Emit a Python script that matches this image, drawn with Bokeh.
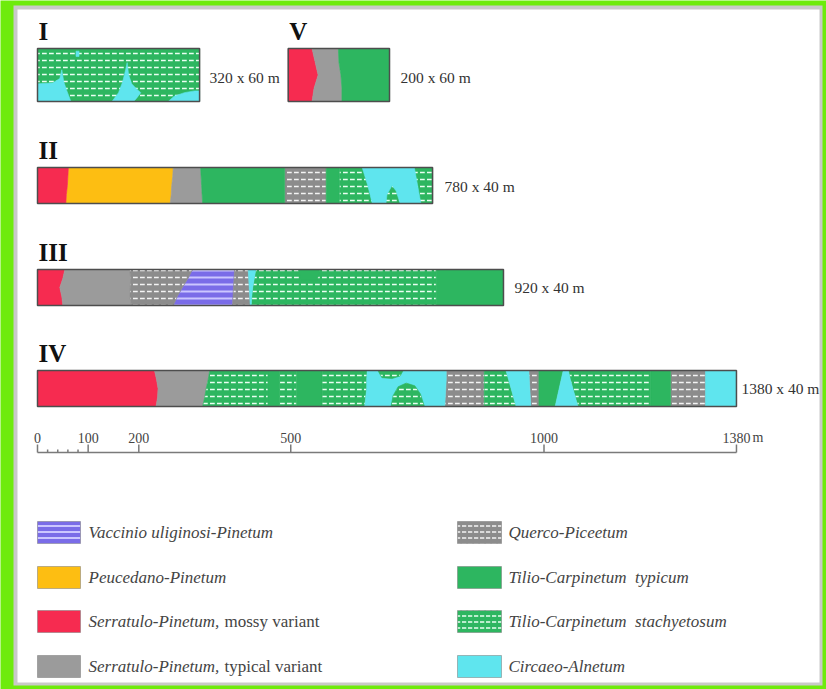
from bokeh.plotting import figure
from bokeh.models import Range1d
from bokeh.core.properties import value
from bokeh.embed import file_html
from bokeh.resources import INLINE

# ------------------------------------------------------------------ data
transect_names = ["I", "V", "II", "III", "IV"]
transect_lengths = [320, 200, 780, 920, 1380]      # m
transect_widths = [60, 60, 40, 40, 40]             # m
transect_offsets = [0, 495, 0, 0, 0]               # m along the scale
size_labels = ["320 x 60 m", "200 x 60 m", "780 x 40 m", "920 x 40 m", "1380 x 40 m"]

depths = [0.0, 0.25, 0.5, 0.75, 1.0]               # fraction of transect width

# boundaries between communities (m along the transect, one value per depth)
I_bounds = [[0] * 5, [320] * 5]
I_types = ["stachy"]
I_patches = [
    [(0, 40), (30, 39), (44, 34), (48, 24), (52, 38), (58, 48), (66, 60), (0, 60)],
    [(147, 60), (160, 50), (168, 38), (174, 24), (177, 16), (180, 30), (186, 40),
     (196, 46), (204, 50), (196, 56), (190, 60)],
    [(258, 60), (270, 54), (290, 50), (310, 48), (320, 48), (320, 60)],
    [(76, 3), (82, 3), (82, 9), (76, 9)],
]
I_patch_types = ["cyan", "cyan", "cyan", "cyan"]

V_bounds = [[0] * 5, [47, 53, 59, 51, 47], [99, 100, 104, 106, 106], [200] * 5]
V_types = ["mossy", "typical", "typicum"]
V_patches = []
V_patch_types = []

II_bounds = [[0] * 5, [61, 60, 59, 57, 56], [268, 267, 265, 264, 262],
             [322, 323, 324, 325, 326], [488] * 5, [570] * 5, [596] * 5, [780] * 5]
II_types = ["mossy", "peuc", "typical", "typicum", "querco", "typicum", "stachy"]
II_patches = [
    [(641, 0), (744, 0), (757, 40), (716, 40), (708, 26), (700, 20), (690, 30),
     (688, 40), (661, 40), (652, 20)],
]
II_patch_types = ["cyan"]

III_bounds = [[0] * 5, [54, 50, 44, 48, 50], [182, 184, 183, 182, 186],
              [306, 297, 286, 276, 268], [389, 388, 387, 386, 385],
              [416, 417, 418, 419, 420], [431, 428, 425, 423, 422],
              [787] * 5, [920] * 5]
III_types = ["mossy", "typical", "querco", "vacc", "querco", "cyan", "stachy", "typicum"]
III_patches = [[(515, 0), (558, 0), (552, 12), (521, 12)]]
III_patch_types = ["typicum"]

IV_bounds = [[0] * 5, [231, 235, 238, 237, 234], [340, 337, 333, 330, 326],
             [455] * 5, [478] * 5, [511] * 5, [562] * 5, [651, 650, 650, 648, 646],
             [807, 807, 806, 805, 804], [882] * 5, [925, 930, 935, 940, 945],
             [970, 971, 972, 973, 974], [990] * 5, [1038, 1034, 1030, 1026, 1022],
             [1048, 1052, 1057, 1062, 1067], [1211] * 5, [1250] * 5, [1319] * 5,
             [1380] * 5]
IV_types = ["mossy", "typical", "stachy", "typicum", "stachy", "typicum", "stachy",
            "cyan", "querco", "stachy", "cyan", "querco", "typicum", "cyan",
            "stachy", "typicum", "querco", "cyan"]
IV_patches = [
    [(698, 40), (702, 28), (712, 18), (728, 14), (745, 17), (756, 26), (764, 40)],
    [(672, 0), (722, 0), (716, 6), (700, 9), (680, 8)],
]
IV_patch_types = ["stachy", "stachy"]

scale_ticks = [0, 100, 200, 500, 1000, 1380]
scale_labels = ["0", "100", "200", "500", "1000", "1380"]
scale_minor = [20, 40, 60, 80]
scale_unit = "m"

legend_left_names = ["Vaccinio uliginosi-Pinetum", "Peucedano-Pinetum",
                     "Serratulo-Pinetum,", "Serratulo-Pinetum,"]
legend_left_suffix = ["", "", "mossy variant", "typical variant"]
legend_left_types = ["vacc", "peuc", "mossy", "typical"]
legend_right_names = ["Querco-Piceetum", "Tilio-Carpinetum\u00a0 typicum",
                      "Tilio-Carpinetum\u00a0 stachyetosum", "Circaeo-Alnetum"]
legend_right_types = ["querco", "typicum", "stachy", "cyan"]

# ------------------------------------------------------------------ styles / layout
GREEN = "#2DB660"
STYLES = {
    "vacc": dict(fill_color="#7A6CE8", hatch_pattern="horizontal_line",
                 hatch_color="#CBC6FF", hatch_scale=7, hatch_weight=2),
    "peuc": dict(fill_color="#FDBE12"),
    "mossy": dict(fill_color="#F62B50"),
    "typical": dict(fill_color="#9B9B9B"),
    "querco": dict(fill_color="#8C8C8C", hatch_pattern="horizontal_dash",
                   hatch_color="#F4F4F4", hatch_scale=7, hatch_weight=1.5),
    "typicum": dict(fill_color=GREEN),
    "stachy": dict(fill_color=GREEN, hatch_pattern="horizontal_dash",
                   hatch_color="#EAFFF2", hatch_scale=7, hatch_weight=1.5),
    "cyan": dict(fill_color="#5FE5EE"),
}

X0, PXM = 37.0, 0.5065      # pixel of 0 m, pixels per metre


def xm(px):
    return (px - X0) / PXM


def dpx(px):
    return px / PXM


# box top / bottom in pixels, size-label gap in pixels
BOX = {"I": (48, 101), "V": (48, 101), "II": (167, 203), "III": (269, 305), "IV": (370, 406)}
SIZE_Y = {"I": 77, "V": 77, "II": 186, "III": 287, "IV": 388}
SIZE_GAP = {"I": 10, "V": 11, "II": 12, "III": 11, "IV": 5}

p = figure(width=826, height=689, x_range=Range1d(xm(0), xm(826)),
           y_range=Range1d(689, 0), x_axis_type=None, y_axis_type=None,
           output_backend="svg", toolbar_location=None, min_border=0)
p.outline_line_color = None
p.background_fill_color = "#6EEB0C"
p.border_fill_color = "#6EEB0C"

# white panel
p.quad(left=[xm(13)], right=[xm(822)], top=[5], bottom=[685],
       fill_color="#C9C9C9", line_color=None)
p.quad(left=[xm(17)], right=[xm(819)], top=[9], bottom=[682],
       fill_color="#FFFFFF", line_color=None)

all_data = {
    "I": (I_bounds, I_types, I_patches, I_patch_types),
    "V": (V_bounds, V_types, V_patches, V_patch_types),
    "II": (II_bounds, II_types, II_patches, II_patch_types),
    "III": (III_bounds, III_types, III_patches, III_patch_types),
    "IV": (IV_bounds, IV_types, IV_patches, IV_patch_types),
}

base = {k: ([], []) for k in STYLES}
over = {k: ([], []) for k in STYLES}
for name, length, width, off in zip(transect_names, transect_lengths,
                                    transect_widths, transect_offsets):
    top, bot = BOX[name]
    h = bot - top
    bounds, types, patches, ptypes = all_data[name]
    for i, t in enumerate(types):
        left, right = bounds[i], bounds[i + 1]
        xs = [off + v for v in left] + [off + v for v in reversed(right)]
        ys = [top + d * h for d in depths] + [top + d * h for d in reversed(depths)]
        base[t][0].append(xs)
        base[t][1].append(ys)
    for poly, t in zip(patches, ptypes):
        over[t][0].append([off + a for a, b in poly])
        over[t][1].append([top + b / width * h for a, b in poly])

for layer in (base, over):
    for t, (xs, ys) in layer.items():
        if xs:
            st = STYLES[t]
            p.patches(xs=xs, ys=ys, line_color=st["fill_color"], line_width=0.6, **st)

# outlines, labels
for name, length, width, off, lab in zip(transect_names, transect_lengths,
                                         transect_widths, transect_offsets, size_labels):
    top, bot = BOX[name]
    p.quad(left=[off], right=[off + length], top=[top], bottom=[bot],
           fill_color=None, line_color="#4D4D4D", line_width=1.5)
    p.text(x=[off + dpx(1)], y=[top - 31], text=[name],
           text_font=value("Liberation Serif"), text_font_style="bold",
           text_font_size="25px", text_color="#111111",
           text_align="left", text_baseline="top")
    p.text(x=[off + length + dpx(SIZE_GAP[name])], y=[SIZE_Y[name]], text=[lab],
           text_font=value("Liberation Serif"), text_font_size="15.5px",
           text_color="#333333", text_align="left", text_baseline="middle")

# scale bar
SY = 452
p.segment(x0=[scale_ticks[0]], x1=[scale_ticks[-1]], y0=[SY], y1=[SY],
          line_color="#7A7A7A", line_width=1.5)
p.segment(x0=scale_ticks, x1=scale_ticks, y0=[SY - 8] * len(scale_ticks),
          y1=[SY] * len(scale_ticks), line_color="#7A7A7A", line_width=1.5)
p.segment(x0=scale_minor, x1=scale_minor, y0=[SY - 3] * len(scale_minor),
          y1=[SY] * len(scale_minor), line_color="#7A7A7A", line_width=1.5)
p.text(x=scale_ticks, y=[SY - 15] * len(scale_ticks), text=scale_labels,
       text_font=value("Liberation Serif"), text_font_size="14px",
       text_color="#444444", text_align="center", text_baseline="middle")
p.text(x=[scale_ticks[-1] + dpx(16)], y=[SY - 15], text=[scale_unit],
       text_font=value("Liberation Serif"), text_font_size="14px",
       text_color="#444444", text_align="left", text_baseline="middle")

# legend
ROWS = [532, 577, 621, 666]
SW = 11
for col_x0, col_x1, txt_x, names, types in (
        (37, 80, 88, legend_left_names, legend_left_types),
        (457, 501, 508, legend_right_names, legend_right_types)):
    for y, nm, t in zip(ROWS, names, types):
        st = dict(STYLES[t])
        if "hatch_scale" in st:
            st["hatch_scale"] = 6
        p.quad(left=[xm(col_x0)], right=[xm(col_x1)], top=[y - SW], bottom=[y + SW],
               line_color="#777777", line_alpha=0.5, line_width=1, **st)
    p.text(x=[xm(txt_x)] * len(ROWS), y=ROWS, text=names,
           text_font=value("Liberation Serif"), text_font_style="italic",
           text_font_size="17px", text_color="#444444", text_align="left",
           text_baseline="middle")
p.text(x=[xm(224)] * 2, y=ROWS[2:], text=legend_left_suffix[2:],
       text_font=value("Liberation Serif"), text_font_size="17px",
       text_color="#444444", text_align="left", text_baseline="middle")

open("out.html", "w").write(file_html(p, INLINE))
